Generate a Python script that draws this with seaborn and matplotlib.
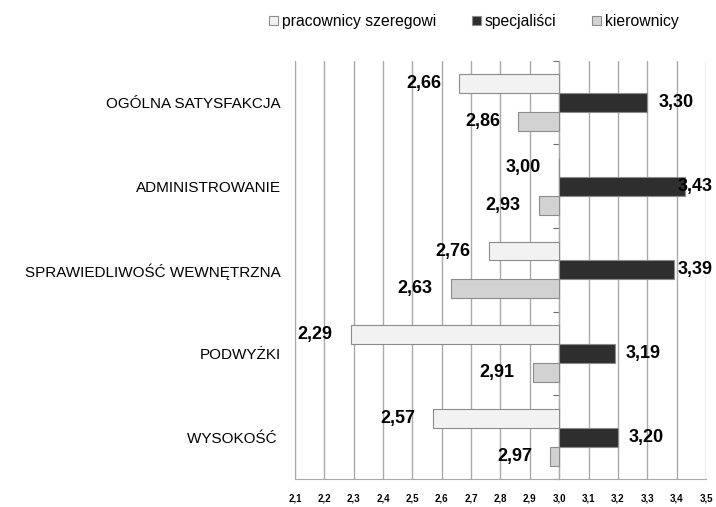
import matplotlib
matplotlib.use("Agg")
import matplotlib.pyplot as plt
import matplotlib.ticker as mticker
from matplotlib.patches import Patch
import pandas as pd
import seaborn as sns

categories = [
    "OGÓLNA SATYSFAKCJA",
    "ADMINISTROWANIE",
    "SPRAWIEDLIWOŚĆ WEWNĘTRZNA",
    "PODWYŻKI",
    "WYSOKOŚĆ ",
]
groups = ["pracownicy szeregowi", "specjaliści", "kierownicy"]
pracownicy = [2.66, 3.00, 2.76, 2.29, 2.57]
specjalisci = [3.30, 3.43, 3.39, 3.19, 3.20]
kierownicy = [2.86, 2.93, 2.63, 2.91, 2.97]
base = 3.0
x_ticks = [2.1, 2.2, 2.3, 2.4, 2.5, 2.6, 2.7, 2.8, 2.9, 3.0, 3.1, 3.2, 3.3, 3.4, 3.5]

# =========================================
# long table, bars measured from the 3,0 base
# =========================================
rows = []
for series, values in zip(groups, [pracownicy, specjalisci, kierownicy]):
    for cat, val in zip(categories, values):
        rows.append({"kategoria": cat, "grupa": series, "wartosc": val,
                     "roznica": val - base})
df = pd.DataFrame(rows)

sns.set_style("white")
plt.rcParams["font.family"] = ["Liberation Sans", "DejaVu Sans"]
plt.rcParams["text.color"] = "black"

colors = {"pracownicy szeregowi": "#f2f2f2",
          "specjaliści": "#2e2e2e",
          "kierownicy": "#d2d2d2"}
grid_color = "#a9a9a9"

fig = plt.figure(figsize=(7.16, 5.07), dpi=100)
ax = fig.add_axes([0.412, 0.055, 0.574, 0.825])

sns.barplot(
    data=df,
    x="roznica",
    y="kategoria",
    hue="grupa",
    hue_order=groups,
    order=categories,
    palette=colors,
    orient="h",
    width=0.68,
    gap=0.0,
    edgecolor="#8c8c8c",
    linewidth=0.8,
    legend=False,
    ax=ax,
    zorder=3,
)

ax.set_xlim(x_ticks[0] - base, x_ticks[-1] - base)
ax.set_ylim(len(categories) - 0.5, -0.5)
ax.set_xticks([t - base for t in x_ticks])
ax.xaxis.set_major_formatter(
    mticker.FuncFormatter(lambda v, p: f"{v + base:.1f}".replace(".", ","))
)
ax.grid(axis="x", color=grid_color, linewidth=1.0, zorder=0)
ax.set_axisbelow(True)

for side in ["top", "right"]:
    ax.spines[side].set_visible(False)
ax.spines["left"].set_color(grid_color)
ax.spines["bottom"].set_color(grid_color)

ax.tick_params(axis="x", length=3, width=1, color=grid_color,
               labelcolor="black", labelsize=7, pad=7)
ax.tick_params(axis="y", length=0, labelcolor="black", labelsize=11, pad=10)
for lbl in ax.get_xticklabels():
    lbl.set_fontweight("bold")

ax.set_xlabel("")
ax.set_ylabel("")

# category axis crossing at 3,0
ax2 = ax.twinx()
ax2.set_ylim(ax.get_ylim())
ax2.spines["right"].set_position(("data", 0))
for side in ["top", "left", "bottom"]:
    ax2.spines[side].set_visible(False)
ax2.spines["right"].set_color("#6e6e6e")
ax2.set_yticks([i - 0.5 for i in range(len(categories) + 1)])
ax2.tick_params(axis="y", direction="in", length=4, color="#6e6e6e",
                labelright=False)
ax2.set_zorder(ax.get_zorder() - 1)
ax.patch.set_visible(False)

# value labels at bar ends
x_right = x_ticks[-1] - base
for container, series in zip(ax.containers, groups):
    sub = df[df["grupa"] == series]
    for bar, (_, r) in zip(container, sub.iterrows()):
        end = r["roznica"]
        yc = bar.get_y() + bar.get_height() / 2
        label = f"{r['wartosc']:.2f}".replace(".", ",")
        if end > 0:
            if end > x_right - 0.15:
                ax.annotate(label, (x_right, yc), xytext=(5, 0),
                            textcoords="offset points", ha="right",
                            va="center", fontsize=13, fontweight="bold",
                            annotation_clip=False, zorder=5)
            else:
                ax.annotate(label, (end, yc), xytext=(8, 0),
                            textcoords="offset points", ha="left",
                            va="center", fontsize=13, fontweight="bold",
                            zorder=5)
        else:
            ax.annotate(label, (end, yc), xytext=(-13, 0),
                        textcoords="offset points", ha="right", va="center",
                        fontsize=13, fontweight="bold", zorder=5)

# legend
handles = [Patch(facecolor=colors[g], edgecolor="#8c8c8c", linewidth=0.8)
           for g in groups]
fig.legend(
    handles, groups,
    loc="center",
    bbox_to_anchor=(0.662, 0.957),
    ncol=3,
    frameon=False,
    fontsize=11.3,
    handlelength=0.55,
    handleheight=0.55,
    handletextpad=0.25,
    columnspacing=2.3,
)

fig.savefig("out.png", dpi=100)
